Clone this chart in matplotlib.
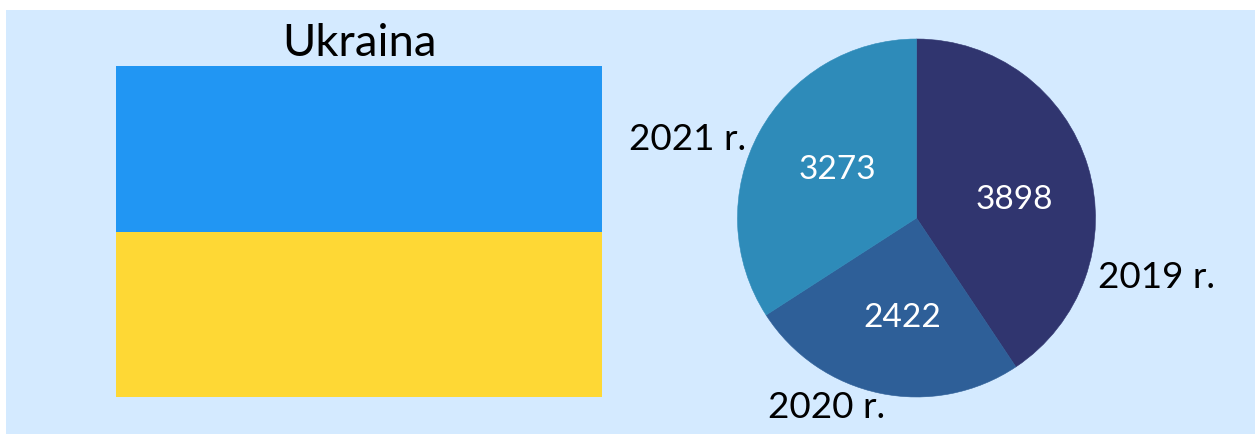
import matplotlib
matplotlib.use("Agg")
import matplotlib.pyplot as plt
from matplotlib.patches import Rectangle

# pie data
years = ["2019 r.", "2020 r.", "2021 r."]
values = [3898, 2422, 3273]
colors = ["#30356f", "#2e5f98", "#2e8bb9"]

flag_colors = ["#2196f3", "#fed835"]

W, H = 1255, 434
plt.rcParams['font.family'] = ['Lato', 'DejaVu Sans']

fig = plt.figure(figsize=(W / 100, H / 100), dpi=100, facecolor="white")

# background panel
bg = fig.add_axes([0, 0, 1, 1])
bg.set_xlim(0, W)
bg.set_ylim(H, 0)
bg.axis("off")
bg.add_patch(Rectangle((6, 10), 1249, 424, color="#d4eaff", lw=0))

# flag
bg.add_patch(Rectangle((116, 66), 486, 166, color=flag_colors[0], lw=0))
bg.add_patch(Rectangle((116, 232), 486, 165, color=flag_colors[1], lw=0))
bg.text(359, 43, "Ukraina", fontsize=32.7, ha="center", va="center", color="black")

# pie, centre 916,218 radius 179
ax = fig.add_axes([(916.5 - 179) / W, 1 - (218 + 179) / H, 358 / W, 358 / H])
wedges, _ = ax.pie(values, colors=colors, startangle=90, counterclock=False, radius=1)
# close the thin seams between the slices
for w in wedges:
    w.set_edgecolor(w.get_facecolor())
    w.set_linewidth(0.4)
ax.set_xlim(-1, 1)
ax.set_ylim(-1, 1)

# labels go on a top layer so the pie does not hide them
top = fig.add_axes([0, 0, 1, 1])
top.set_xlim(0, W)
top.set_ylim(H, 0)
top.axis("off")
top.patch.set_alpha(0)
top.text(1014, 200, str(values[0]), color="white", fontsize=24, ha="center", va="center")
top.text(902, 318, str(values[1]), color="white", fontsize=24, ha="center", va="center")
top.text(837, 170, str(values[2]), color="white", fontsize=24, ha="center", va="center")
top.text(1156, 277, years[0], color="black", fontsize=26.6, ha="center", va="center")
top.text(827, 407, years[1], color="black", fontsize=26.6, ha="center", va="center")
top.text(688, 139, years[2], color="black", fontsize=26.6, ha="center", va="center")

fig.savefig("out.png", dpi=100)
